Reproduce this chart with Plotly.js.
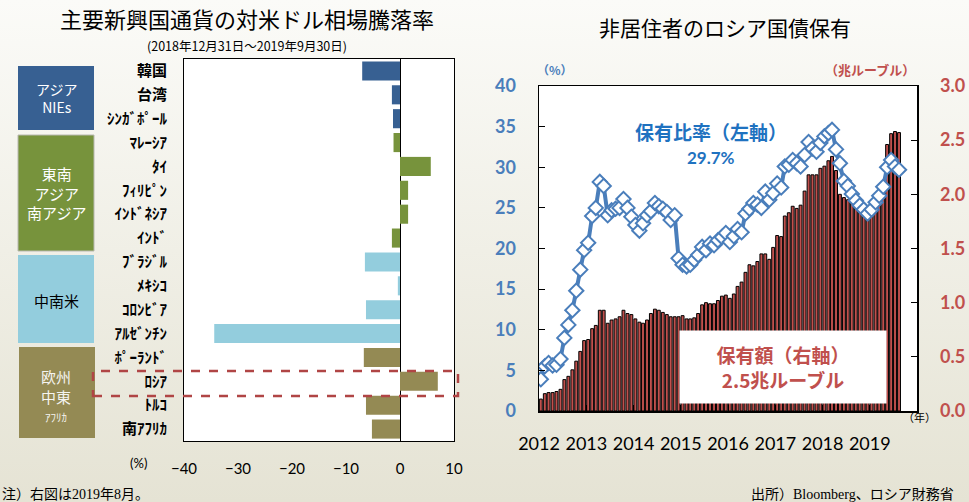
<!DOCTYPE html>
<html>
<head>
<meta charset="utf-8">
<script src="https://cdn.plot.ly/plotly-3.0.1.min.js"></script>
<style>
  html, body { margin: 0; padding: 0; }
  body { width: 969px; height: 502px; background: linear-gradient(#fbfbf8, #e5e3d4); }
  #chart { width: 969px; height: 502px; }
</style>
</head>
<body>
<div id="chart"></div>
<script>
// left chart: currency change vs USD (%)
var countries = ['韓国', '台湾', 'ｼﾝｶﾞﾎﾟｰﾙ', 'ﾏﾚｰｼｱ', 'ﾀｲ', 'ﾌｨﾘﾋﾟﾝ', 'ｲﾝﾄﾞﾈｼｱ', 'ｲﾝﾄﾞ',
  'ﾌﾞﾗｼﾞﾙ', 'ﾒｷｼｺ', 'ｺﾛﾝﾋﾞｱ', 'ｱﾙｾﾞﾝﾁﾝ', 'ﾎﾟｰﾗﾝﾄﾞ', 'ﾛｼｱ', 'ﾄﾙｺ', '南ｱﾌﾘｶ'];
var changes = [-7.0, -1.5, -1.3, -1.2, 5.7, 1.5, 1.5, -1.5,
  -6.5, -0.4, -6.3, -34.4, -6.7, 7.0, -6.3, -5.2];
var regionOf = ['nies', 'nies', 'nies', 'sea', 'sea', 'sea', 'sea', 'sea',
  'latam', 'latam', 'latam', 'latam', 'emea', 'emea', 'emea', 'emea'];
var changeTicks = [-40, -30, -20, -10, 0, 10];

// right chart: non-resident holdings of Russian OFZ, Jan 2012 - Aug 2019
var holdShare = [
  3.9, 5.5, 5.9, 5.6, 5.7, 6.4, 9.0, 10.6, 12.4, 14.8, 17.4, 19.8,
  20.7, 24.0, 25.0, 28.2, 27.7, 24.1, 24.7, 24.9, 25.0, 26.1, 25.0, 23.9,
  22.9, 22.2, 23.1, 24.1, 24.6, 25.6, 25.2, 24.9, 24.5, 23.5, 24.1, 18.8,
  18.0, 17.8, 18.0, 18.6, 19.2, 20.2, 19.8, 20.6, 20.4, 21.0, 21.4, 21.9,
  20.8, 21.5, 22.4, 22.0, 24.3, 24.9, 25.6, 25.4, 25.0, 27.0, 26.0, 26.8,
  28.0, 27.5, 30.1, 30.3, 30.9, 30.5, 30.1, 31.5, 33.1, 32.3, 31.9, 33.0,
  33.8, 34.2, 34.6, 32.2, 30.5, 28.3, 27.7, 26.7, 25.9, 25.3, 24.8, 24.3,
  24.8, 25.7, 26.5, 27.6, 30.0, 30.9, 30.1, 29.7];
var holdAmount = [
  0.11, 0.16, 0.17, 0.17, 0.18, 0.20, 0.29, 0.32, 0.38, 0.46, 0.55, 0.65,
  0.66, 0.76, 0.79, 0.93, 0.93, 0.81, 0.84, 0.85, 0.87, 0.93, 0.90, 0.89,
  0.85, 0.82, 0.81, 0.84, 0.90, 0.94, 0.93, 0.91, 0.89, 0.87, 0.87, 0.87,
  0.88, 0.85, 0.85, 0.86, 0.90, 0.98, 1.00, 0.99, 0.99, 1.02, 1.06, 1.07,
  1.04, 1.08, 1.15, 1.19, 1.28, 1.35, 1.34, 1.38, 1.45, 1.45, 1.40, 1.51,
  1.62, 1.61, 1.80, 1.83, 1.89, 1.87, 1.90, 2.03, 2.18, 2.18, 2.18, 2.24,
  2.26, 2.31, 2.35, 2.22, 2.00, 1.97, 1.95, 1.92, 1.90, 1.88, 1.86, 1.85,
  1.88, 1.95, 2.02, 2.08, 2.46, 2.56, 2.58, 2.57];
var years = ['2012', '2013', '2014', '2015', '2016', '2017', '2018', '2019'];
var startYear = 2012;

var months = holdShare.map(function (v, i) {
  var d = new Date(Date.UTC(startYear, i, 15));
  return d.toISOString().slice(0, 10);
});

var regionColors = { nies: '#376092', sea: '#77933c', latam: '#93cddd', emea: '#948a54' };

var W = 969, H = 502;
function px(x) { return x / W; }
function py(y) { return (H - y) / H; }

var jp = '"Noto Sans CJK JP", sans-serif';
var serifJp = '"Liberation Serif", "Noto Sans CJK JP", serif';
var blue = '#4a7ebb';
var red = '#c0504d';

// text placed in page pixels
function note(text, x, y, font, extra) {
  return Object.assign({
    text: text, x: px(x), y: py(y), xref: 'paper', yref: 'paper',
    xanchor: 'center', yanchor: 'middle', showarrow: false, font: font
  }, extra || {});
}

var traces = [
  {
    type: 'bar',
    orientation: 'h',
    y: countries,
    x: changes,
    marker: { color: regionOf.map(function (r) { return regionColors[r]; }) },
    xaxis: 'x', yaxis: 'y'
  },
  {
    type: 'bar',
    x: months,
    y: holdAmount,
    marker: { color: red, line: { color: '#000', width: 1 } },
    xaxis: 'x2', yaxis: 'y2',
    name: '保有額'
  },
  {
    type: 'scatter',
    mode: 'lines+markers',
    x: months,
    y: holdShare,
    line: { color: blue, width: 4 },
    marker: { symbol: 'diamond', size: 11, color: '#fff', line: { color: blue, width: 2 } },
    xaxis: 'x2', yaxis: 'y3',
    name: '保有比率'
  }
];

var frame = { showline: true, linecolor: '#000', linewidth: 1, mirror: true, showgrid: false };

var layout = {
  width: W, height: H,
  margin: { l: 0, r: 0, t: 0, b: 0 },
  paper_bgcolor: 'rgba(0,0,0,0)',
  plot_bgcolor: '#fff',
  showlegend: false,
  bargap: 0.2,
  xaxis: Object.assign({}, frame, {
    domain: [px(184), px(454)],
    range: [-40, 10],
    tickvals: changeTicks,
    ticks: '',
    zeroline: true, zerolinecolor: '#000', zerolinewidth: 1,
    ticklabelstandoff: 14,
    tickfont: { family: 'Lato, sans-serif', size: 15, color: '#000' },
    anchor: 'y'
  }),
  yaxis: Object.assign({}, frame, {
    domain: [py(441), py(59)],
    type: 'category',
    autorange: 'reversed',
    ticks: '',
    ticklabelstandoff: 13,
    tickfont: { family: jp, size: 15, color: '#000', weight: 'bold' },
    anchor: 'x'
  }),
  xaxis2: Object.assign({}, frame, {
    domain: [px(539), px(917)],
    type: 'date',
    range: ['2012-01-01', '2020-01-01'],
    tickvals: years.map(function (y) { return y + '-01-01'; }),
    ticktext: years,
    ticks: 'inside', ticklen: 6, tickcolor: '#000',
    ticklabelstandoff: 16,
    tickfont: { family: 'Lato, sans-serif', size: 18, color: '#000' },
    anchor: 'y2',
    linewidth: 1.5
  }),
  yaxis2: {
    domain: [py(411), py(86)],
    range: [0, 3],
    dtick: 0.5,
    tickformat: '.1f',
    side: 'right',
    anchor: 'x2',
    showgrid: false, zeroline: false,
    showline: true, linecolor: '#000', linewidth: 1.5,
    ticks: 'inside', ticklen: 6, tickcolor: '#000',
    ticklabelstandoff: 18,
    tickfont: { family: 'Lato, sans-serif', size: 18, color: red, weight: 'bold' }
  },
  yaxis3: {
    range: [0, 40],
    dtick: 5,
    side: 'left',
    overlaying: 'y2',
    anchor: 'x2',
    showgrid: false, zeroline: false,
    showline: true, linecolor: '#000', linewidth: 1.5,
    ticks: 'inside', ticklen: 6, tickcolor: '#000',
    ticklabelstandoff: 18,
    tickfont: { family: 'Lato, sans-serif', size: 18, color: blue, weight: 'bold' }
  },
  shapes: [
    { type: 'rect', xref: 'paper', yref: 'paper', x0: px(18), x1: px(94), y0: py(130), y1: py(66),
      fillcolor: regionColors.nies, line: { width: 0 }, layer: 'below' },
    { type: 'rect', xref: 'paper', yref: 'paper', x0: px(18), x1: px(94), y0: py(251), y1: py(135),
      fillcolor: regionColors.sea, line: { color: '#b8b8b0', width: 1 }, layer: 'below' },
    { type: 'rect', xref: 'paper', yref: 'paper', x0: px(18), x1: px(94), y0: py(343), y1: py(255),
      fillcolor: regionColors.latam, line: { width: 0 }, layer: 'below' },
    { type: 'rect', xref: 'paper', yref: 'paper', x0: px(19), x1: px(95), y0: py(438), y1: py(347),
      fillcolor: regionColors.emea, line: { width: 0 }, layer: 'below' },
    { type: 'rect', xref: 'paper', yref: 'paper', x0: px(93), x1: px(458), y0: py(396), y1: py(371),
      line: { color: '#b04545', width: 2.5, dash: 'dash' } }
  ],
  annotations: [
    note('主要新興国通貨の対米ドル相場騰落率', 247, 18, { family: jp, size: 22, color: '#000' }),
    note('(2018年12月31日～2019年9月30日)', 247, 45, { family: jp, size: 12.5, color: '#000' }),
    note('アジア<br>NIEs', 56, 98, { family: jp, size: 14, color: '#fff' }),
    note('東南<br>アジア<br>南アジア', 56, 193, { family: jp, size: 15, color: '#fff' }),
    note('中南米', 56, 300, { family: jp, size: 15, color: '#000' }),
    note('欧州<br>中東<br><span style="font-size:11px">ｱﾌﾘｶ</span>', 56, 395,
      { family: jp, size: 15, color: '#f4f4f0' }),
    note('(%)', 138, 463, { family: 'Lato, sans-serif', size: 13, color: '#000' }),
    note('注）右図は2019年8月。', 0, 494, { family: serifJp, size: 14, color: '#000' }, { xanchor: 'left' }),
    note('非居住者のロシア国債保有', 725, 27, { family: jp, size: 21, color: '#000' }),
    note('<b>（%）</b>', 555, 69, { family: jp, size: 12, color: blue }),
    note('<b>（兆ルーブル）</b>', 870, 69, { family: jp, size: 13, color: red }),
    note('（年）', 919, 417, { family: jp, size: 11, color: '#000' }),
    note('<b>保有比率（左軸）</b>', 711, 131, { family: jp, size: 19, color: '#1f72c0' }),
    note('<b>29.7%</b>', 711, 157, { family: 'Lato, sans-serif', size: 17, color: '#1f72c0' }),
    note('<b>保有額（右軸）</b><br><b>2.5兆ルーブル</b>', 783, 367, { family: jp, size: 19, color: red },
      { bgcolor: '#fff', width: 204, height: 70 }),
    note('出所）Bloomberg、ロシア財務省', 956, 494, { family: serifJp, size: 14, color: '#000' }, { xanchor: 'right' })
  ]
};

Plotly.newPlot('chart', traces, layout, { displayModeBar: false, staticPlot: true });
</script>
</body>
</html>
